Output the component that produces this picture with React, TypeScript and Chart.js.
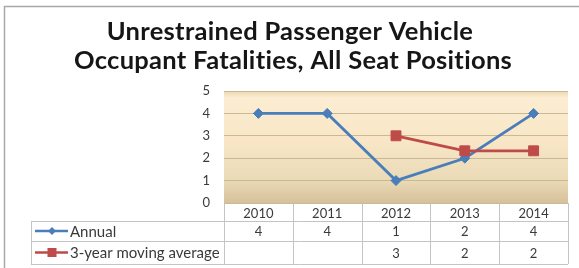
import React, { useEffect, useRef } from 'react';
import { Chart, registerables } from 'chart.js';

Chart.register(...registerables);

// ---- data ----
const years = ['2010', '2011', '2012', '2013', '2014'];
const annual = [4, 4, 1, 2, 4];
const movingAverage: (number | null)[] = [null, null, 3, 2.33, 2.33];
const seriesNames = ['Annual', '3-year moving average'];
const titleLines = ['Unrestrained Passenger Vehicle', 'Occupant Fatalities, All Seat Positions'];
const yMin = 0;
const yMax = 5;
const yStep = 1;

// ---- style ----
const W = 579;
const H = 268;
const FONT = 'Lato, "Open Sans", sans-serif';
const BLUE = '#4a7ebb';
const RED = '#be4b48';
const TEXT = '#3a3a3a';
const TABLE_LINE = '#c4c4c4';

const decor = {
  id: 'decor',
  beforeDraw(chart: any) {
    const { ctx, chartArea: a } = chart;
    ctx.save();
    ctx.fillStyle = '#ffffff';
    ctx.fillRect(0, 0, W, H);
    // outer frame
    ctx.strokeStyle = '#a8a8a8';
    ctx.lineWidth = 1.5;
    ctx.strokeRect(4.5, 6.5, W + 40, H + 40);
    // title
    ctx.fillStyle = '#161616';
    ctx.font = `bold 25.5px ${FONT}`;
    try {
      (ctx as any).letterSpacing = '0.3px';
    } catch (e) {}
    ctx.textAlign = 'center';
    ctx.textBaseline = 'alphabetic';
    ctx.fillText(titleLines[0], 290, 40);
    ctx.fillText(titleLines[1], 293, 68.5);
    try {
      (ctx as any).letterSpacing = '0px';
    } catch (e) {}
    // plot background
    const g = ctx.createLinearGradient(0, a.top, 0, a.bottom);
    g.addColorStop(0, '#ecd6b0');
    g.addColorStop(0.06, '#fcedd2');
    g.addColorStop(0.45, '#f8e6c6');
    g.addColorStop(0.8, '#eadab6');
    g.addColorStop(1, '#d5c09a');
    ctx.fillStyle = g;
    ctx.fillRect(a.left, a.top, a.right - a.left, a.bottom - a.top);
    ctx.restore();
  },
  afterDraw(chart: any) {
    const { ctx, chartArea: a } = chart;
    const xs = chart.scales.x;
    const n = years.length;
    const colW = (a.right - a.left) / n;
    const legendLeft = 31;
    const r0 = a.bottom;
    const r1 = a.bottom + 18;
    const r2 = a.bottom + 38;
    const r3 = a.bottom + 61;
    ctx.save();
    ctx.strokeStyle = TABLE_LINE;
    ctx.lineWidth = 1;
    ctx.beginPath();
    [r1, r2, r3].forEach((y) => {
      ctx.moveTo(legendLeft, Math.round(y) + 0.5);
      ctx.lineTo(a.right, Math.round(y) + 0.5);
    });
    ctx.moveTo(legendLeft + 0.5, r1);
    ctx.lineTo(legendLeft + 0.5, r3);
    for (let i = 0; i <= n; i++) {
      const x = Math.round(a.left + i * colW) + 0.5;
      ctx.moveTo(x, r0);
      ctx.lineTo(x, r3);
    }
    ctx.stroke();

    // values
    ctx.fillStyle = TEXT;
    ctx.font = `13px ${FONT}`;
    ctx.textAlign = 'center';
    ctx.textBaseline = 'middle';
    const yRow1 = (r1 + r2) / 2 + 1;
    const yRow2 = (r2 + r3) / 2 + 1;
    for (let i = 0; i < n; i++) {
      const cx = xs.getPixelForValue(i);
      ctx.fillText(String(annual[i]), cx, yRow1);
      const m = movingAverage[i];
      if (m !== null) ctx.fillText(String(Math.round(m)), cx, yRow2);
    }

    // legend keys
    const kx0 = 35;
    const kx1 = 68;
    const kc = 52;
    ctx.lineWidth = 2.5;
    ctx.strokeStyle = BLUE;
    ctx.beginPath();
    ctx.moveTo(kx0, yRow1 - 1);
    ctx.lineTo(kx1, yRow1 - 1);
    ctx.stroke();
    ctx.fillStyle = BLUE;
    ctx.beginPath();
    ctx.moveTo(kc, yRow1 - 5);
    ctx.lineTo(kc + 4, yRow1 - 1);
    ctx.lineTo(kc, yRow1 + 3);
    ctx.lineTo(kc - 4, yRow1 - 1);
    ctx.closePath();
    ctx.fill();

    ctx.strokeStyle = RED;
    ctx.beginPath();
    ctx.moveTo(kx0, yRow2 - 1);
    ctx.lineTo(kx1, yRow2 - 1);
    ctx.stroke();
    ctx.fillStyle = RED;
    ctx.fillRect(kc - 4.5, yRow2 - 5.5, 9, 9);

    ctx.fillStyle = TEXT;
    ctx.font = `15px ${FONT}`;
    ctx.textAlign = 'left';
    ctx.fillText(seriesNames[0], 70, yRow1);
    ctx.fillText(seriesNames[1], 70, yRow2);
    ctx.restore();
  },
};

export default function App() {
  const ref = useRef<HTMLCanvasElement>(null);
  useEffect(() => {
    const chart = new Chart(ref.current as HTMLCanvasElement, {
      type: 'line',
      data: {
        labels: years,
        datasets: [
          {
            label: seriesNames[0],
            data: annual,
            borderColor: BLUE,
            backgroundColor: BLUE,
            borderWidth: 2.75,
            pointStyle: 'rectRot',
            pointRadius: 5,
            pointBorderWidth: 1,
            tension: 0,
            order: 1,
          },
          {
            label: seriesNames[1],
            data: movingAverage,
            borderColor: RED,
            backgroundColor: RED,
            borderWidth: 2.75,
            pointStyle: 'rect',
            pointRadius: 7,
            pointBorderWidth: 1,
            tension: 0,
            order: 0,
          },
        ],
      },
      options: {
        responsive: false,
        maintainAspectRatio: false,
        devicePixelRatio: 1,
        animation: false,
        layout: { padding: { left: 194, top: 91, right: 11, bottom: 0 } },
        plugins: {
          legend: { display: false },
          tooltip: { enabled: false },
          title: { display: false },
        },
        scales: {
          x: {
            type: 'category',
            offset: true,
            grid: { display: false, drawTicks: false },
            border: { display: false },
            ticks: { font: { family: FONT, size: 13 }, color: TEXT, padding: 3, maxRotation: 0 },
            afterFit: (s: any) => {
              s.height = 65;
            },
          },
          y: {
            min: yMin,
            max: yMax,
            ticks: { stepSize: yStep, font: { family: FONT, size: 13 }, color: TEXT, padding: 14 },
            grid: { color: '#cbb995', drawTicks: false, lineWidth: 1 },
            border: { display: false },
            afterFit: (s: any) => {
              s.width = 30;
            },
          },
        },
      },
      plugins: [decor],
    });
    return () => chart.destroy();
  }, []);
  return (
    <div style={{ position: 'fixed', left: 0, top: 0, width: W, height: H, background: '#fff' }}>
      <canvas ref={ref} width={W} height={H} style={{ width: W, height: H, display: 'block' }} />
    </div>
  );
}
